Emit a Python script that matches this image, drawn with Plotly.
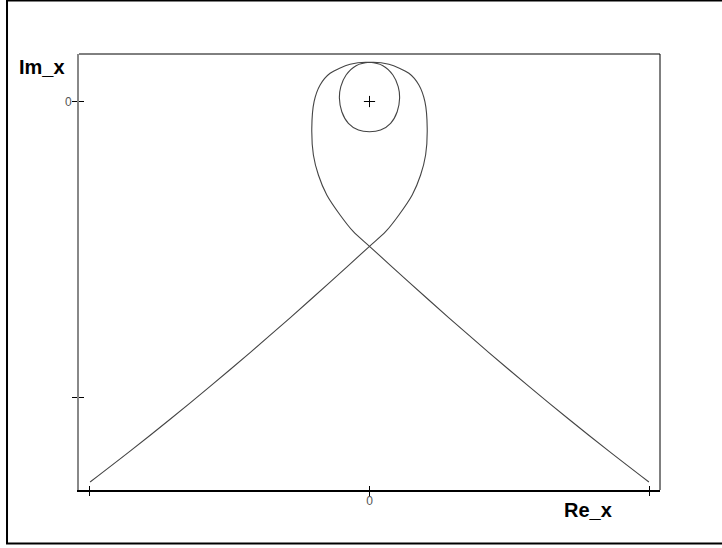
import plotly.graph_objects as go

# Curve (Nyquist-like locus), in axis units
re_x = [-0.9979, -0.8550, -0.7121, -0.5693, -0.4264, -0.2836, -0.1407, 0.0,
        0.0575, 0.1050, 0.1525, 0.1825, 0.2004, 0.2061, 0.1979, 0.1764, 0.1407, 0.0693,
        0.0,
        -0.0479, -0.0836, -0.1025, -0.1075, -0.0989, -0.0754, -0.0396, 0.0,
        0.0396, 0.0754, 0.0989, 0.1075, 0.1025, 0.0836, 0.0479, 0.0,
        -0.0693, -0.1407, -0.1764, -0.1979, -0.2061, -0.2004, -0.1825, -0.1525, -0.1050, -0.0575,
        0.0, 0.1407, 0.2836, 0.4264, 0.5693, 0.7121, 0.8550, 0.9979]
im_x = [-1.2855, -1.1811, -1.0736, -0.9625, -0.8483, -0.7307, -0.6101, -0.4892,
        -0.4399, -0.3834, -0.3159, -0.2483, -0.1807, -0.0905, -0.0007, 0.0557, 0.0953, 0.1257,
        0.1324,
        0.1209, 0.0895, 0.0500, 0.0108, -0.0345, -0.0736, -0.0963, -0.1020,
        -0.0963, -0.0736, -0.0345, 0.0108, 0.0500, 0.0895, 0.1209, 0.1324,
        0.1257, 0.0953, 0.0557, -0.0007, -0.0905, -0.1807, -0.2483, -0.3159, -0.3834, -0.4399,
        -0.4892, -0.6101, -0.7307, -0.8483, -0.9625, -1.0736, -1.1811, -1.2855]

origin_re = [0.0]
origin_im = [0.0]

x_tickvals = [-1, 0, 1]
x_ticktext = ["", "0", ""]
y_tickvals = [-1, 0]
y_ticktext = ["", "0"]

x_range = [-1.0375, 1.0375]
y_range = [-1.3125, 0.1605]

fig = go.Figure()
fig.add_trace(go.Scatter(x=re_x, y=im_x, mode="lines",
                         line=dict(color="#444444", width=1.1, shape="spline", smoothing=0.8),
                         hoverinfo="skip", showlegend=False))
fig.add_trace(go.Scatter(x=origin_re, y=origin_im, mode="markers", xaxis="x2", yaxis="y2",
                         marker=dict(symbol="cross-thin", size=8,
                                     line=dict(color="black", width=1)),
                         hoverinfo="skip", showlegend=False))

tickfont = dict(family="Liberation Sans, Arial, sans-serif", size=12, color="#555555")

fig.update_layout(
    width=722, height=548,
    margin=dict(l=79, r=62, t=54, b=58),
    paper_bgcolor="white", plot_bgcolor="white",
    xaxis=dict(range=x_range, tickmode="array", tickvals=x_tickvals, ticktext=x_ticktext,
               ticks="outside", ticklen=4, tickwidth=1, tickcolor="black",
               showline=True, linecolor="black", linewidth=2, showgrid=False,
               zeroline=False, tickfont=tickfont, ticklabelstandoff=-5, fixedrange=True),
    yaxis=dict(range=y_range, tickmode="array", tickvals=y_tickvals, ticktext=y_ticktext,
               ticks="outside", ticklen=5, tickwidth=1, tickcolor="black",
               showline=True, linecolor="#888888", linewidth=2, showgrid=False,
               zeroline=False, tickfont=tickfont, ticklabelstandoff=-2, fixedrange=True),
    xaxis2=dict(range=x_range, overlaying="x", anchor="y2", side="bottom",
                tickmode="array", tickvals=x_tickvals, ticktext=["", "", ""],
                ticks="inside", ticklen=4, tickwidth=1, tickcolor="black",
                showline=False, showgrid=False, zeroline=False, fixedrange=True),
    yaxis2=dict(range=y_range, overlaying="y", anchor="x2", side="left",
                tickmode="array", tickvals=y_tickvals, ticktext=["", ""],
                ticks="inside", ticklen=5, tickwidth=1, tickcolor="black",
                showline=False, showgrid=False, zeroline=False, fixedrange=True),
    shapes=[
        # top and right edges of the plot box
        dict(type="line", xref="paper", yref="paper", x0=0, x1=1, y0=1, y1=1,
             line=dict(color="black", width=1)),
        dict(type="line", xref="paper", yref="paper", x0=1, x1=1, y0=0, y1=1,
             line=dict(color="black", width=1)),
        # outer frame (its right edge lies outside the window)
        dict(type="rect", xref="paper", yref="paper", x0=-0.1239, x1=1.25, y0=-0.1227, y1=1.1227,
             line=dict(color="black", width=2)),
    ],
    annotations=[
        dict(text="<b>Im_x</b>", xref="paper", yref="paper", x=-0.1067, y=0.9702,
             xanchor="left", yanchor="middle", showarrow=False,
             font=dict(family="Liberation Sans, Arial, sans-serif", size=20, color="black")),
        dict(text="<b>Re_x</b>", xref="paper", yref="paper", x=0.8313, y=-0.0459,
             xanchor="left", yanchor="middle", showarrow=False,
             font=dict(family="Liberation Sans, Arial, sans-serif", size=20, color="black")),
    ],
)

fig.write_html("out.html", config={"displayModeBar": False},
               post_script="document.body.style.margin='0px';")
